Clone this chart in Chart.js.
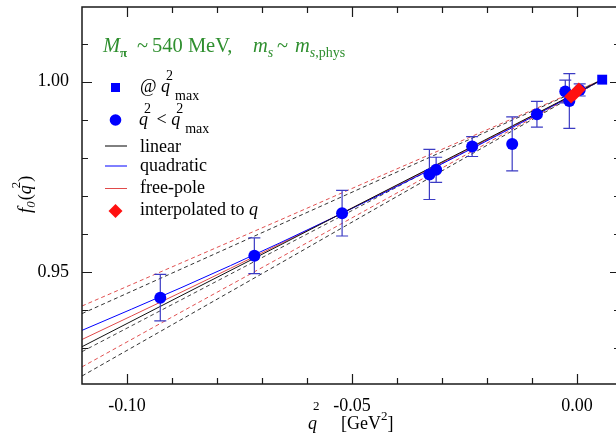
<!DOCTYPE html>
<html>
<head>
<meta charset="utf-8">
<script src="https://cdn.jsdelivr.net/npm/chart.js@4.4.1/dist/chart.umd.min.js"></script>
<style>
  html, body { margin: 0; padding: 0; background: #fff; overflow: hidden; }
  #chartCanvas { display: block; }
</style>
</head>
<body>
<canvas id="chartCanvas" width="616" height="436"></canvas>
<script>
// ------- Data -------
// f0 at q^2 < q^2_max (q^2 in GeV^2), with errors
const lowQ2  = [-0.0926, -0.0717, -0.0522, -0.0328, -0.0313, -0.0233, -0.0144, -0.0089, -0.0026, -0.0017, 0.0006];
const lowF0  = [0.9432, 0.9542, 0.9654, 0.9756, 0.9768, 0.9829, 0.9836, 0.9914, 0.9974, 0.9949, 0.9978];
const lowErr = [0.0061, 0.0047, 0.0060, 0.0066, 0.0033, 0.0026, 0.0071, 0.0034, 0.0030, 0.0072, 0.0016];

// f0 at q^2_max
const maxQ2 = [0.0056];
const maxF0 = [1.0005];

// interpolated to q
const interpQ2 = [-0.0013, -0.0005, 0.0004];
const interpF0 = [0.9961, 0.9968, 0.9979];

// fit curves, sampled at fitQ2
const fitQ2        = [-0.11, -0.088, -0.066, -0.044, -0.022, 0.0056];
const linearF0     = [0.9303, 0.9437, 0.9570, 0.9704, 0.9837, 1.0005];
const quadraticF0  = [0.9346, 0.9458, 0.9576, 0.9701, 0.9832, 1.0005];
const freePoleF0   = [0.9322, 0.9446, 0.9573, 0.9703, 0.9835, 1.0005];
// error bands
const linearHi     = [0.9390, 0.9507, 0.9624, 0.9741, 0.9858, 1.0005];
const linearLo     = [0.9226, 0.9374, 0.9522, 0.9671, 0.9819, 1.0005];
const freePoleHi   = [0.9410, 0.9523, 0.9636, 0.9750, 0.9863, 1.0005];
const freePoleLo   = [0.9250, 0.9394, 0.9537, 0.9681, 0.9825, 1.0005];
const quadraticLo  = [0.9290, 0.9426, 0.9562, 0.9698, 0.9834, 1.0005];

// axis ticks
const xMajorTicks = [-0.10, -0.05, 0.00];
const xMinorTicks = [-0.09, -0.08, -0.07, -0.06, -0.04, -0.03, -0.02, -0.01];
const yMajorTicks = [0.95, 1.00];
const yMinorTicks = [0.93, 0.94, 0.96, 0.97, 0.98, 0.99, 1.01];

// ------- Helpers -------
const SERIF = '"Liberation Serif", "Times New Roman", serif';
const GREEN = "#2f8f2f";
const BLUE = "#0000ff";
const RED = "#ff1010";

const toXY = (xs, ys) => xs.map((x, i) => ({ x: x, y: ys[i] }));

function fitLine(label, ys, color, dash) {
  return {
    type: "line",
    label: label,
    data: toXY(fitQ2, ys),
    borderColor: color,
    borderWidth: 1,
    borderDash: dash || [],
    pointRadius: 0,
    fill: false,
    cubicInterpolationMode: "monotone",
  };
}

// draws a row of text pieces: [text, font, dy, dx]; a numeric "at" jumps to that x
function drawRuns(ctx, x, y, runs, color) {
  let cx = x;
  ctx.fillStyle = color;
  ctx.textBaseline = "alphabetic";
  ctx.textAlign = "left";
  runs.forEach(([t, font, dy, dx, at]) => {
    ctx.font = font;
    if (at !== undefined) cx = at;
    cx += dx || 0;
    ctx.fillText(t, cx, y + (dy || 0));
    cx += ctx.measureText(t).width;
  });
}

const R = (s) => `${s}px ${SERIF}`;
const I = (s) => `italic ${s}px ${SERIF}`;

// ------- Frame, ticks, error bars, labels -------
const decorPlugin = {
  id: "decor",
  beforeDatasetDraw(chart, args) {
    if (args.index !== 2) return;
    const { ctx } = chart;
    const xs = chart.scales.x, ys = chart.scales.y;
    ctx.save();
    ctx.strokeStyle = "#3b3bc4";
    ctx.lineWidth = 1.2;
    lowQ2.forEach((q, i) => {
      const px = xs.getPixelForValue(q);
      const top = ys.getPixelForValue(lowF0[i] + lowErr[i]);
      const bot = ys.getPixelForValue(lowF0[i] - lowErr[i]);
      ctx.beginPath();
      ctx.moveTo(px, top); ctx.lineTo(px, bot);
      ctx.moveTo(px - 6, top); ctx.lineTo(px + 6, top);
      ctx.moveTo(px - 6, bot); ctx.lineTo(px + 6, bot);
      ctx.stroke();
    });
    ctx.restore();
  },
  afterDraw(chart) {
    const { ctx, chartArea: a } = chart;
    const xs = chart.scales.x, ys = chart.scales.y;
    // the right-hand axis sits just past the canvas edge
    const rightAxis = a.right + 4;
    ctx.save();

    // frame (left, top, bottom)
    ctx.strokeStyle = "#1a1a1a";
    ctx.lineWidth = 1.5;
    ctx.beginPath();
    ctx.moveTo(a.right + 2, a.top);
    ctx.lineTo(a.left, a.top);
    ctx.lineTo(a.left, a.bottom);
    ctx.lineTo(a.right + 2, a.bottom);
    ctx.stroke();

    // inward ticks on all four sides
    ctx.lineWidth = 1.2;
    ctx.beginPath();
    const xTick = (v, len) => {
      const px = Math.round(xs.getPixelForValue(v)) + 0.5;
      ctx.moveTo(px, a.bottom); ctx.lineTo(px, a.bottom - len);
      ctx.moveTo(px, a.top); ctx.lineTo(px, a.top + len);
    };
    const yTick = (v, len) => {
      const py = Math.round(ys.getPixelForValue(v)) + 0.5;
      ctx.moveTo(a.left, py); ctx.lineTo(a.left + len, py);
      ctx.moveTo(rightAxis, py); ctx.lineTo(rightAxis - len, py);
    };
    xMajorTicks.forEach((v) => xTick(v, 10));
    xMinorTicks.forEach((v) => xTick(v, 6));
    yMajorTicks.forEach((v) => yTick(v, 10));
    yMinorTicks.forEach((v) => yTick(v, 6));
    ctx.stroke();

    // heading
    drawRuns(ctx, 103, 52, [
      ["M", I(20.5), 0],
      ["\u03c0", `bold ${R(13)}`, 5, 0],
      ["~", R(20.5), 0, 0, 137],
      ["540 MeV,", R(20.5), 0, 0, 152],
      ["m", I(20.5), 0, 0, 253],
      ["s", I(14), 5, 0],
      ["~", R(20.5), 0, 0, 277],
      ["m", I(20.5), 0, 0, 295],
      ["s", I(14), 5, 0],
      [",phys", R(14), 5],
    ], GREEN);

    // legend
    ctx.fillStyle = BLUE;
    ctx.fillRect(111, 83, 9, 9);
    ctx.beginPath();
    ctx.arc(115.5, 120, 5.8, 0, Math.PI * 2);
    ctx.fill();

    drawRuns(ctx, 140, 92, [
      ["@ ", R(18), 0], ["q", I(18), 0], ["2", R(14), -12, -4], ["max", R(14), 8, 2],
    ], "#000");
    drawRuns(ctx, 139, 125, [
      ["q", I(18), 0], ["2", R(14), -12, -4], [" < ", R(18), 0, 1],
      ["q", I(18), 0], ["2", R(14), -12, -4], ["max", R(14), 8, 2],
    ], "#000");

    const sample = (y, color, x0, x1) => {
      ctx.strokeStyle = color;
      ctx.lineWidth = 1;
      ctx.beginPath();
      ctx.moveTo(x0, y); ctx.lineTo(x1, y);
      ctx.stroke();
    };
    sample(146, "#000", 105, 127);
    sample(166, BLUE, 105, 127);
    sample(188.5, "#e04a4a", 105, 127);

    drawRuns(ctx, 140, 152, [["linear", R(18), 0]], "#000");
    drawRuns(ctx, 140, 171, [["quadratic", R(18), 0]], "#000");
    drawRuns(ctx, 140, 193, [["free-pole", R(18), 0]], "#000");

    ctx.fillStyle = RED;
    ctx.beginPath();
    ctx.moveTo(115.5, 204); ctx.lineTo(122.5, 211); ctx.lineTo(115.5, 218); ctx.lineTo(108.5, 211);
    ctx.closePath();
    ctx.fill();
    drawRuns(ctx, 140, 215, [["interpolated to ", R(18), 0], ["q", I(18), 0]], "#000");

    // x title
    drawRuns(ctx, 308, 429, [
      ["q", I(18), 0], ["2", R(13), -19, -4],
      ["[GeV", R(18), 0, 0, 341], ["2", R(13), -9, 0], ["]", R(18), 0],
    ], "#000");

    // y title
    ctx.save();
    ctx.translate(31, 193);
    ctx.rotate(-Math.PI / 2);
    drawRuns(ctx, -20, 0, [
      ["f", I(19), 0], ["0", I(13), 4, 0], ["(", R(18), 0, 1],
      ["q", I(18), 0], ["2", R(13), -11, -3], [")", R(18), 0, 0],
    ], "#000");
    ctx.restore();

    ctx.restore();
  },
};

// ------- Chart -------
const ctx = document.getElementById("chartCanvas").getContext("2d");
new Chart(ctx, {
  type: "scatter",
  data: {
    datasets: [
      {
        label: "interpolated to q",
        data: toXY(interpQ2, interpF0),
        pointStyle: "rectRot",
        pointRadius: 7,
        backgroundColor: RED,
        borderColor: RED,
        borderWidth: 0,
      },
      {
        label: "@ q2max",
        data: toXY(maxQ2, maxF0),
        pointStyle: "rect",
        pointRadius: 7,
        backgroundColor: BLUE,
        borderColor: BLUE,
        borderWidth: 0,
      },
      {
        label: "q2 < q2max",
        data: toXY(lowQ2, lowF0),
        pointStyle: "circle",
        pointRadius: 6,
        backgroundColor: BLUE,
        borderColor: BLUE,
        borderWidth: 0,
      },
      fitLine("linear", linearF0, "#111"),
      fitLine("quadratic", quadraticF0, BLUE),
      fitLine("free-pole", freePoleF0, "#e04a4a"),
      fitLine("linear hi", linearHi, "#333", [4, 3]),
      fitLine("linear lo", linearLo, "#333", [4, 3]),
      fitLine("free-pole hi", freePoleHi, "#e05050", [4, 3]),
      fitLine("free-pole lo", freePoleLo, "#e05050", [4, 3]),
      fitLine("quadratic lo", quadraticLo, "#444", [4, 3]),
    ],
  },
  options: {
    responsive: false,
    animation: false,
    devicePixelRatio: 1,
    layout: { autoPadding: false, padding: { top: 7, right: 0, bottom: 0, left: 0 } },
    plugins: {
      legend: { display: false },
      tooltip: { enabled: false },
    },
    scales: {
      x: {
        type: "linear",
        min: -0.11,
        max: 0.00867,
        grid: { display: false },
        border: { display: false },
        afterBuildTicks: (scale) => { scale.ticks = xMajorTicks.map((v) => ({ value: v })); },
        afterFit: (scale) => {
          scale.height = 52;
          scale.paddingLeft = 0;
          scale.paddingRight = 0;
        },
        ticks: {
          color: "#000",
          padding: 3,
          font: { family: SERIF, size: 18 },
          callback: (v) => Number(v).toFixed(2),
        },
      },
      y: {
        type: "linear",
        min: 0.9205,
        max: 1.0196,
        grid: { display: false },
        border: { display: false },
        afterBuildTicks: (scale) => { scale.ticks = yMajorTicks.map((v) => ({ value: v })); },
        afterFit: (scale) => {
          scale.width = 82;
          scale.paddingTop = 0;
          scale.paddingBottom = 0;
        },
        ticks: {
          color: "#000",
          padding: 5,
          font: { family: SERIF, size: 18 },
          callback: (v) => Number(v).toFixed(2),
        },
      },
    },
  },
  plugins: [decorPlugin],
});
</script>
</body>
</html>
